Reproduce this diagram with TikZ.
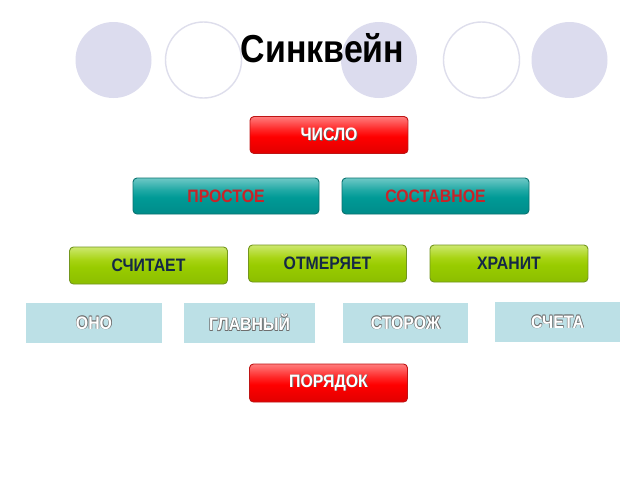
\documentclass[tikz,border=0pt]{standalone}
\usepackage{fontspec}
\usepackage{graphicx}
\setmainfont{Liberation Sans}
\definecolor{lav}{RGB}{220,220,238}
\definecolor{lavline}{RGB}{222,222,236}
\definecolor{rd1}{RGB}{225,0,0}
\definecolor{rd2}{RGB}{255,0,0}
\definecolor{rd3}{RGB}{255,40,40}
\definecolor{rd4}{RGB}{255,125,125}
\definecolor{rborder}{RGB}{190,20,20}
\definecolor{tl1}{RGB}{0,140,138}
\definecolor{tl2}{RGB}{0,154,150}
\definecolor{tl3}{RGB}{30,168,164}
\definecolor{tl4}{RGB}{110,200,198}
\definecolor{tborder}{RGB}{10,115,112}
\definecolor{gr1}{RGB}{140,190,0}
\definecolor{gr2}{RGB}{153,204,0}
\definecolor{gr3}{RGB}{168,212,20}
\definecolor{gr4}{RGB}{205,232,110}
\definecolor{gborder}{RGB}{115,150,30}
\definecolor{navy}{RGB}{20,40,70}
\definecolor{tealtext}{RGB}{200,35,40}
\definecolor{lblue}{RGB}{188,224,230}
\definecolor{shgray}{RGB}{110,110,110}
\pgfdeclareverticalshading{glossred}{100bp}{color(0bp)=(rd1); color(25bp)=(rd1); color(48bp)=(rd2); color(58bp)=(rd3); color(75bp)=(rd4); color(100bp)=(rd4)}
\pgfdeclareverticalshading{glossteal}{100bp}{color(0bp)=(tl1); color(25bp)=(tl1); color(48bp)=(tl2); color(58bp)=(tl3); color(75bp)=(tl4); color(100bp)=(tl4)}
\pgfdeclareverticalshading{glossgreen}{100bp}{color(0bp)=(gr1); color(25bp)=(gr1); color(48bp)=(gr2); color(58bp)=(gr3); color(75bp)=(gr4); color(100bp)=(gr4)}
\newcommand\cond[1]{\scalebox{0.88}[1]{#1}}
\newcommand\shtxt[2]{\cond{\rlap{\kern0.9pt\raisebox{-0.9pt}{\textcolor{#1}{#2}}}#2}}
\newcommand\outtxt[1]{\cond{\rlap{\kern0.7pt\raisebox{-0.7pt}{\textcolor{shgray}{#1}}}\rlap{\kern-0.5pt\raisebox{0.5pt}{\textcolor{shgray}{#1}}}\rlap{\kern0.7pt\raisebox{0.5pt}{\textcolor{shgray}{#1}}}\rlap{\kern-0.5pt\raisebox{-0.7pt}{\textcolor{shgray}{#1}}}#1}}
\begin{document}
\begin{tikzpicture}[x=1pt,y=-1pt,
  btn/.style={rounded corners=4pt, inner sep=0pt, outer sep=0pt, line width=0.9pt,
    font=\fontsize{18}{19}\selectfont\bfseries},
  redbtn/.style={btn, draw=rborder, shading=glossred, text=white, minimum width=158pt, minimum height=37pt},
  tealbtn/.style={btn, draw=tborder, shading=glossteal, text=tealtext, minimum height=36pt},
  greenbtn/.style={btn, draw=gborder, shading=glossgreen, text=navy, minimum width=158pt, minimum height=37pt},
  bluebox/.style={fill=lblue, inner sep=0pt, outer sep=0pt, minimum height=40pt, text=white,
    font=\fontsize{18}{19}\selectfont\bfseries},
  dot/.style={circle, inner sep=0pt, minimum size=76pt, fill=lav},
  ring/.style={circle, inner sep=0pt, minimum size=76pt, draw=lavline, line width=1.4pt, fill=white}
]
\useasboundingbox (0,0) rectangle (640,480);
\fill[white] (0,0) rectangle (640,480);
% circles
\node[dot] (c1) at (113.5,60) {};
\node[ring] (c2) at (203.5,60) {};
\node[dot] (c3) at (379,60) {};
\node[ring] (c4) at (481.5,60) {};
\node[dot] (c5) at (569.5,60) {};
% title
\node[anchor=base, inner sep=0pt, font=\fontsize{39}{40}\selectfont\bfseries] (title) at (322.5,62) {\scalebox{0.87}[1]{Синквейн}};
% row 1
\node[redbtn] (chislo) at (329,135) {\shtxt{black!60}{ЧИСЛО}};
% row 2
\node[tealbtn, minimum width=186pt] (prostoe) at (226,196) {\cond{ПРОСТОЕ}};
\node[tealbtn, minimum width=187pt] (sostavnoe) at (435.5,196) {\cond{СОСТАВНОЕ}};
% row 3
\node[greenbtn] (schitaet) at (148.5,265.5) {\cond{СЧИТАЕТ}};
\node[greenbtn] (otmeryaet) at (327.5,263.5) {\cond{ОТМЕРЯЕТ}};
\node[greenbtn] (hranit) at (509,263.5) {\cond{ХРАНИТ}};
% row 4
\node[bluebox, minimum width=136pt] (ono) at (94,323) {\outtxt{ОНО}};
\node[bluebox, minimum width=131pt] (glavny) at (249.5,323) {\outtxt{ГЛАВНЫЙ}};
\node[bluebox, minimum width=125pt] (storozh) at (405.5,323) {\outtxt{СТОРОЖ}};
\node[bluebox, minimum width=125pt] (scheta) at (557.5,322) {\outtxt{СЧЕТА}};
% row 5
\node[redbtn, minimum height=38pt] (poryadok) at (328.5,383) {\shtxt{black!60}{ПОРЯДОК}};
\end{tikzpicture}
\end{document}
